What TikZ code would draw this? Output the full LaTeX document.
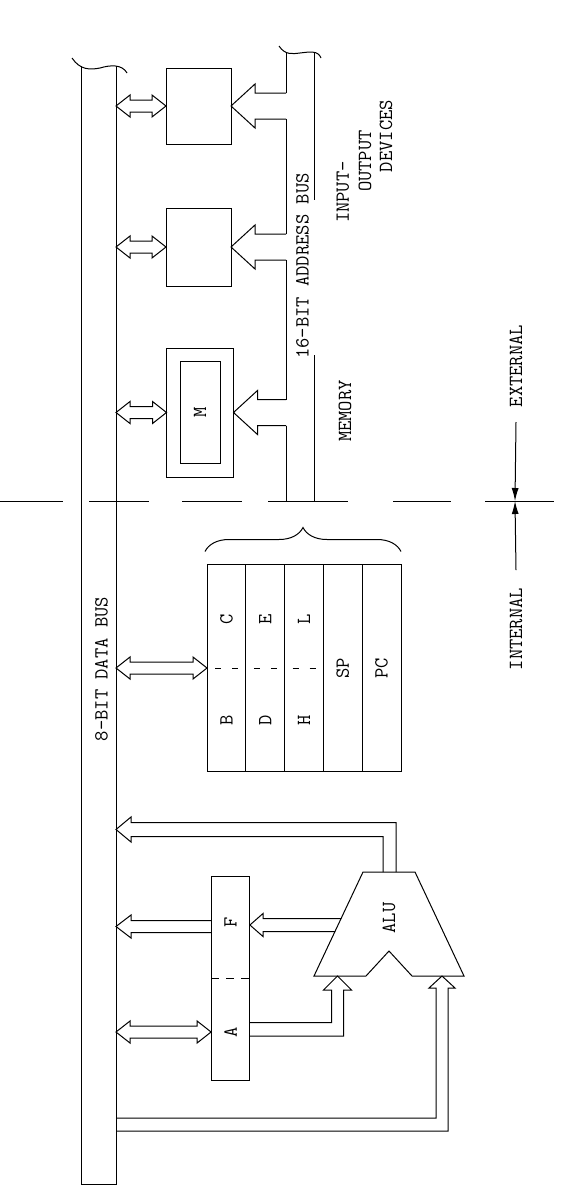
\documentclass[tikz,border=0pt]{standalone}
\usepackage{fontspec}
\usepackage{tikz}
\usetikzlibrary{arrows.meta,positioning,calc,decorations.pathreplacing}
% fat double-headed bus arrow between two tips
\newcommand{\dblarrow}[2]{%
  \draw (#1) -- ++(14,-11) -- ++(0,5) -- ($(#2)+(-14,-6)$) -- ++(0,-5)
    -- (#2) -- ++(-14,11) -- ++(0,-5) -- ($(#1)+(14,6)$) -- ++(0,5) -- cycle;}
% fat arrow from the address bus into a unit
\newcommand{\addrarrow}[1]{%
  \draw (abus.west |- #1.east) ++(0,-13) -- ($(#1.east)+(24,-13)$)
    -- ++(0,-9) -- (#1.east) -- ++(24,22) -- ++(0,-9)
    -- ($(abus.west |- #1.east)+(0,13)$);}

\begin{document}
\begin{tikzpicture}[x=1pt,y=-1pt,line width=1pt,
  font=\ttfamily\fontsize{20}{22}\selectfont,
  devbox/.style={draw,inner sep=0pt,outer sep=0pt,minimum width=65pt},
  reg/.style={draw,inner sep=0pt,outer sep=0pt,minimum width=38.8pt,
    minimum height=207pt},
  buscore/.style={inner sep=0pt,outer sep=0pt},
  txt/.style={rotate=90,inner sep=0pt},
  split/.style={dash pattern=on 6pt off 11pt},
  dimline/.style={-{Latex[length=13pt,width=7pt]}}
]
  \useasboundingbox (0,0) rectangle (566,1202);

  % data bus
  \node[buscore,minimum width=35pt,minimum height=1118pt] (dbus)
    at (98.5,625) {};
  \draw (dbus.north west) -- (dbus.south west) -- (dbus.south east)
    -- (dbus.north east);
  \draw (72,58) .. controls (80,70) and (90,70) .. (100,68)
    .. controls (110,65) and (122,64) .. (127,73);
  \node[txt] (dlabel) at (101.5,669) {8-BIT DATA BUS};

  % address bus
  \node[buscore,minimum width=28pt,minimum height=449pt] (abus)
    at (300,276.5) {};
  \draw (279,46) .. controls (285,55) and (292,54) .. (300,53)
    .. controls (309,52) and (318,50) .. (321,58);
  \foreach \a/\b in {52/93,119/234,260/399.5,425.5/501}
    \draw (286,\a) -- (286,\b);
  \draw (314,52) -- (314,200) (314,355) -- (314,501);
  \node[txt] (alabel) at (302.5,266) {16-BIT ADDRESS BUS};

  % memory and i/o devices
  \node[devbox,minimum height=76pt] (io1) at (198.5,106) {};
  \node[devbox,minimum height=78pt] (io2) at (198.5,247) {};
  \node[devbox,minimum width=67pt,minimum height=129pt] (mem)
    at (200,412.5) {};
  \node[draw,inner sep=0pt,minimum width=40pt,minimum height=102pt] (cell)
    at (200,412) {};
  \node[txt] (m) at (cell) {M};

  \dblarrow{dbus.east |- io1.west}{io1.west}
  \dblarrow{dbus.east |- io2.west}{io2.west}
  \dblarrow{dbus.east |- mem.west}{mem.west}
  \addrarrow{io1}
  \addrarrow{io2}
  \addrarrow{mem}

  \node[txt] (memory) at (345,411) {MEMORY};
  \node[txt] (input) at (343,192) {INPUT-};
  \node[txt] (output) at (365,161) {OUTPUT};
  \node[txt] (devices) at (386,136) {DEVICES};

  % register file
  \node[reg] (c1) at (226.4,668) {};
  \node[reg,right=0pt of c1] (c2) {};
  \node[reg,right=0pt of c2] (c3) {};
  \node[reg,right=0pt of c3] (c4) {};
  \node[reg,right=0pt of c4] (c5) {};
  \foreach \c in {c1,c2,c3}
    \draw[split] ($(\c.west)+(8,0)$) -- (\c.east);
  \node[txt] (regc) at ($(c1)+(0,-49)$) {C};
  \node[txt] (regb) at ($(c1)+(0,52)$) {B};
  \node[txt] (rege) at ($(c2)+(0,-49)$) {E};
  \node[txt] (regd) at ($(c2)+(0,52)$) {D};
  \node[txt] (regl) at ($(c3)+(0,-49)$) {L};
  \node[txt] (regh) at ($(c3)+(0,52)$) {H};
  \node[txt] (sp) at (c4) {SP};
  \node[txt] (pc) at (c5) {PC};
  \draw[decorate,decoration={brace,amplitude=24pt}]
    ($(c1.north west)+(-2,-13)$) -- ($(c5.north east)+(0,-13)$);
  \dblarrow{dbus.east |- c1.west}{c1.west}

  % accumulator and flags
  \node[reg,minimum height=204pt] (af) at (230.5,978) {};
  \draw[dash pattern=on 8pt off 7pt] (af.west) -- (af.east);
  \node[txt] (F) at ($(af)+(0,-56)$) {F};
  \node[txt] (A) at ($(af)+(0,54)$) {A};
  \dblarrow{dbus.east |- A}{af.west |- A}

  % ALU
  \draw (363,872) -- (415,872) -- (464,976) -- (412,976) -- (389,951)
    -- (366,976) -- (314,976) -- cycle;
  \node[txt] (alu) at (389,918) {ALU};

  \draw (383,872) |- (131,836.5) -- (131,842) -- (dbus.east |- 0,829.5)
    -- (131,817) -- (131,822.5) -| (396,872);
  \draw (341,918.5) -- (263,918.5) -- (263,913.5) -- (af.east |- 0,925)
    -- (263,936.5) -- (263,931.5) -- (335,931.5);
  \draw (af.west |- 0,920.5) -- (131,920.5) -- (131,915)
    -- (dbus.east |- 0,926.5) -- (131,938) -- (131,932.5)
    -- (af.west |- 0,932.5);
  \draw (af.east |- 0,1022.5) -| (331.5,990) -- (323.5,990) -- (337.5,976)
    -- (351.5,990) -- (343.5,990) |- (af.east |- 0,1036);
  \draw (dbus.east |- 0,1118) -| (436,988) -- (429,988) -- (442,976)
    -- (455,988) -- (448,988) |- (dbus.east |- 0,1131);

  % internal / external boundary
  \foreach \a/\b in {0/63,89/149,182/242,268/348,393/451,485/554}
    \draw (\a,501) -- (\b,501);
  \coordinate (cut) at (515,501);
  \node[txt] (ext) at (516,366) {EXTERNAL};
  \node[txt] (int) at (516,629) {INTERNAL};
  \draw[dimline] (ext.west |- 0,422) -- (cut);
  \draw[dimline] (int.east |- 0,570) -- (cut);
\end{tikzpicture}
\end{document}
